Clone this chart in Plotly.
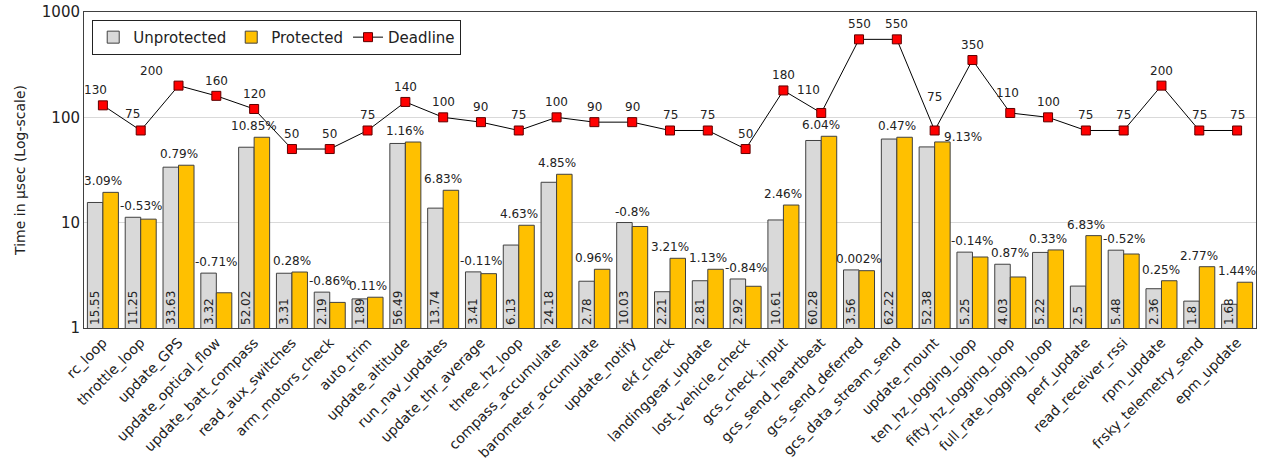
import math
import plotly.graph_objects as go

categories = ["rc_loop", "throttle_loop", "update_GPS", "update_optical_flow", "update_batt_compass",
              "read_aux_switches", "arm_motors_check", "auto_trim", "update_altitude", "run_nav_updates",
              "update_thr_average", "three_hz_loop", "compass_accumulate", "barometer_accumulate",
              "update_notify", "ekf_check", "landinggear_update", "lost_vehicle_check", "gcs_check_input",
              "gcs_send_heartbeat", "gcs_send_deferred", "gcs_data_stream_send", "update_mount",
              "ten_hz_logging_loop", "fifty_hz_logging_loop", "full_rate_logging_loop", "perf_update",
              "read_receiver_rssi", "rpm_update", "frsky_telemetry_send", "epm_update"]

unprotected = [15.55, 11.25, 33.63, 3.32, 52.02, 3.31, 2.19, 1.89, 56.49, 13.74, 3.41, 6.13, 24.18,
               2.78, 10.03, 2.21, 2.81, 2.92, 10.61, 60.28, 3.56, 62.22, 52.38, 5.25, 4.03, 5.22,
               2.5, 5.48, 2.36, 1.8, 1.68]

protected = [19.4, 10.8, 35.1, 2.16, 64.7, 3.40, 1.75, 1.96, 58.3, 20.3, 3.28, 9.45, 28.8,
             3.61, 9.2, 4.59, 3.61, 2.49, 14.7, 66.1, 3.50, 64.7, 58.4, 4.72, 3.05, 5.51,
             7.53, 5.04, 2.81, 3.82, 2.72]

deadline = [130, 75, 200, 160, 120, 50, 50, 75, 140, 100, 90, 75, 100, 90, 90, 75, 75, 50, 180,
            110, 550, 550, 75, 350, 110, 100, 75, 75, 200, 75, 75]

overhead = ["3.09%", "-0.53%", "0.79%", "-0.71%", "10.85%", "0.28%", "-0.86%", "0.11%", "1.16%",
            "6.83%", "-0.11%", "4.63%", "4.85%", "0.96%", "-0.8%", "3.21%", "1.13%", "-0.84%",
            "2.46%", "6.04%", "0.002%", "0.47%", "9.13%", "-0.14%", "0.87%", "0.33%", "6.83%",
            "-0.52%", "0.25%", "2.77%", "1.44%"]

FONT = "DejaVu Sans"
TXT = "#222222"

fig = go.Figure()
fig.add_trace(go.Bar(
    x=categories, y=unprotected, name="Unprotected",
    marker=dict(color="#d9d9d9", line=dict(color="#404040", width=1)),
    text=[str(v) for v in unprotected], textposition="inside", insidetextanchor="start",
    textangle=-90, textfont=dict(family=FONT, size=12, color=TXT),
    cliponaxis=False,
))
fig.add_trace(go.Bar(
    x=categories, y=protected, name="Protected",
    marker=dict(color="#ffc000", line=dict(color="#404040", width=1)),
))
fig.add_trace(go.Scatter(
    x=categories, y=deadline, name="Deadline", mode="lines+markers",
    line=dict(color="#000000", width=1),
    marker=dict(symbol="square", size=9, color="#ff0000", line=dict(color="#600000", width=1)),
    cliponaxis=False,
))

# deadline value labels (label placement tweaks, as in the reference)
dl_shift = {0: (-7, 15), 1: (-8, 16), 2: (-27, 15), 19: (-13, 23), 22: (0, 33), 24: (-3, 20)}
for i, (c, d) in enumerate(zip(categories, deadline)):
    xs, ys = dl_shift.get(i, (0, 15))
    fig.add_annotation(x=c, y=math.log10(d), text=str(d), showarrow=False, yanchor="middle",
                       xshift=xs, yshift=ys, font=dict(family=FONT, size=12, color=TXT))

# overhead labels above each group
for i, (c, lab) in enumerate(zip(categories, overhead)):
    top = max(unprotected[i], protected[i])
    xs, ys = 0, 2
    if c == "update_mount":
        xs, ys = 28, -4
    fig.add_annotation(x=c, y=math.log10(top), text=lab, showarrow=False, yanchor="bottom",
                       xshift=xs, yshift=ys, font=dict(family=FONT, size=12, color=TXT))

fig.update_layout(
    width=1266, height=464,
    margin=dict(l=84, r=10, t=12, b=136),
    paper_bgcolor="white", plot_bgcolor="white",
    barmode="group", bargap=0.18, bargroupgap=0.0,
    font=dict(family=FONT, size=12, color=TXT),
    uniformtext=dict(minsize=12, mode="show"),
    legend=dict(orientation="h", x=0.007, y=0.975, xanchor="left", yanchor="top",
                bordercolor="#222", borderwidth=1, bgcolor="white",
                font=dict(family=FONT, size=15, color=TXT),
                itemwidth=30, tracegroupgap=0),
    showlegend=True,
)
fig.update_xaxes(type="category", tickangle=-45, showline=True, mirror=True, linecolor="#404040",
                 linewidth=1, ticks="", automargin=False, range=[-0.5, len(categories) - 0.5],
                 tickfont=dict(family=FONT, size=14, color=TXT))
fig.update_yaxes(type="log", range=[0, 3], tickvals=[1, 10, 100, 1000],
                 ticktext=["1", "10", "100", "1000"], showgrid=True, gridcolor="#d9d9d9",
                 showline=True, mirror=True, linecolor="#404040", linewidth=1, ticks="",
                 automargin=False,
                 tickfont=dict(family=FONT, size=15, color=TXT),
                 title=dict(text="Time in µsec (Log-scale)", font=dict(family=FONT, size=14, color=TXT),
                            standoff=12))

fig.write_html("out.html", post_script="document.body.style.margin='0';",
               config={"displayModeBar": False})
